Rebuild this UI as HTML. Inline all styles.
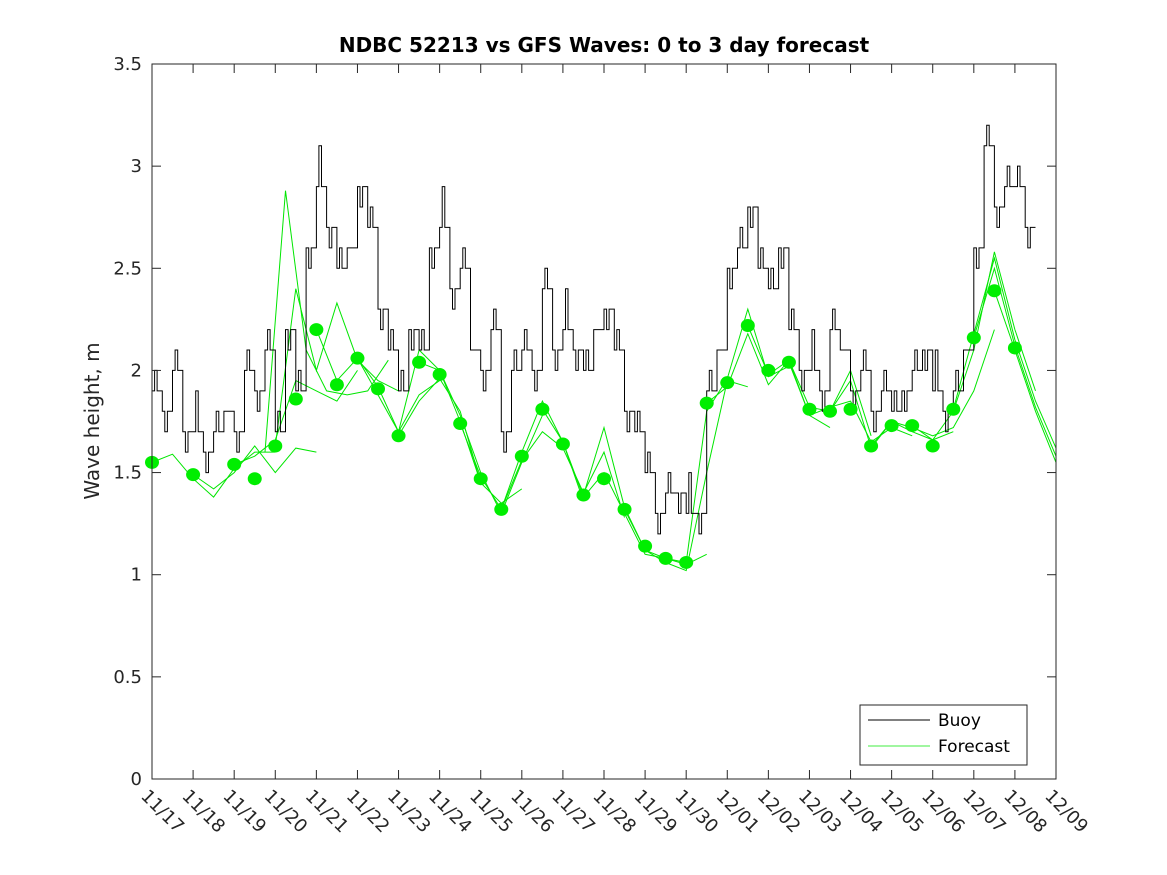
<!DOCTYPE html>
<html><head><meta charset="utf-8"><style>
body{margin:0;background:#fff;}
svg{display:block;font-family:"DejaVu Sans","Liberation Sans",sans-serif;}
</style></head><body>
<svg id="chart" width="1167" height="875" viewBox="0 0 1167 875">
<rect x="0" y="0" width="1167" height="875" fill="#fff"/>
<text x="604" y="52" text-anchor="middle" font-size="20" font-weight="bold" fill="#000">NDBC 52213 vs GFS Waves: 0 to 3 day forecast</text>
<text transform="translate(99,421) rotate(-90)" text-anchor="middle" font-size="20" fill="#262626">Wave height, m</text>
<g id="series"></g>
<rect x="152" y="64" width="904" height="715" fill="none" stroke="#262626" stroke-width="1"/>
<g id="axes"></g>
<g>
<rect x="860" y="705" width="167" height="60" fill="#fff" stroke="#262626" stroke-width="1"/>
<line x1="868" y1="720" x2="930" y2="720" stroke="#000" stroke-width="1"/>
<text x="938" y="726" font-size="17" fill="#000">Buoy</text>
<line x1="868" y1="746" x2="930" y2="746" stroke="#00e600" stroke-width="0.7"/>
<text x="938" y="752" font-size="17" fill="#000">Forecast</text>
</g>
</svg>
<script>
const xTickLabels = ["11/17","11/18","11/19","11/20","11/21","11/22","11/23","11/24","11/25","11/26","11/27","11/28","11/29","11/30","12/01","12/02","12/03","12/04","12/05","12/06","12/07","12/08","12/09"];
const yTicks = [0,0.5,1,1.5,2,2.5,3,3.5];
const yTickLabels = ["0","0.5","1","1.5","2","2.5","3","3.5"];
const buoyStep = 0.25;
const buoyVals = [1.9,1.8,2.0,1.7, 1.7,1.6,1.7,1.8, 1.7,2.0,1.9,2.1, 1.7,2.2,1.9,2.6, 2.9,2.7,2.5,2.6, 2.9,2.7,2.3,2.1, 1.9,2.2,2.1,2.6, 2.7,2.4,2.5,2.1, 2.0,2.2,1.7,2.0, 2.1,2.0,2.4,2.1, 2.2,2.1,2.0,2.2, 2.3,2.1,1.8,1.7, 1.5,1.3,1.4,1.4, 1.3,1.3,1.9,2.1, 2.5,2.6,2.8,2.5, 2.4,2.6,2.2,2.0, 2.0,1.9,2.2,2.1, 1.9,2.0,1.8,1.9, 1.8,1.9,2.0,2.1, 1.9,1.8,1.9,2.1, 2.6,3.1,2.8,2.9, 2.9,2.7];
const buoyJitter = [0.1,-0.1,0.1,-0.1,0.2,-0.1,0.1,0,-0.1,0.1,-0.1,0.1];
const dotDays = [0,1,2,2.5,3,3.5,4,4.5,5,5.5,6,6.5,7,7.5,8,8.5,9,9.5,10,10.5,11,11.5,12,12.5,13,13.5,14,14.5,15,15.5,16,16.5,17,17.5,18,18.5,19,19.5,20,20.5,21];
const dotVals = [1.55,1.49,1.54,1.47,1.63,1.86,2.20,1.93,2.06,1.91,1.68,2.04,1.98,1.74,1.47,1.32,1.58,1.81,1.64,1.39,1.47,1.32,1.14,1.08,1.06,1.84,1.94,2.22,2.00,2.04,1.81,1.80,1.81,1.63,1.73,1.73,1.63,1.81,2.16,2.39,2.11];
const runStarts = [0,1,2,2.75,3,4,5,6,6.5,7.5,8.5,9.5,10.5,11.5,12.5,13.5,14.5,15.5,16.5,17.5,18.5,19.5,20,20.5];
const runStep = 0.5;
const runVals = [
 [1.55,1.59,1.47,1.38,1.52,1.60,1.60],
 [1.49,1.42,1.50,1.63,1.50,1.62,1.60],
 [1.54,1.58,1.66,1.95,1.90,1.85,2.00],
 [1.60,2.88,2.10,1.90,1.88,1.90,2.05],
 [1.63,2.40,2.00,2.33,2.05,1.95,1.90],
 [2.20,1.95,2.06,1.88,1.70,1.88,1.95],
 [2.06,1.92,1.70,2.10,2.00,1.75,1.45],
 [1.68,1.85,1.96,1.80,1.45,1.35,1.42],
 [2.04,2.00,1.78,1.50,1.30,1.55,1.78],
 [1.74,1.48,1.32,1.60,1.85,1.65,1.36],
 [1.32,1.56,1.70,1.62,1.40,1.60,1.28],
 [1.81,1.65,1.38,1.50,1.30,1.10,1.08],
 [1.39,1.72,1.33,1.12,1.08,1.05,1.10],
 [1.32,1.12,1.06,1.02,1.50,1.95,1.92],
 [1.08,1.06,1.80,1.96,2.30,1.97,2.02],
 [1.84,1.92,2.18,1.93,2.05,1.78,1.72],
 [2.22,1.98,2.05,1.82,1.80,2.00,1.68],
 [2.04,1.78,1.82,1.85,1.65,1.72,1.68],
 [1.80,1.95,1.62,1.75,1.70,1.66,1.70],
 [1.63,1.75,1.72,1.68,1.72,1.90,2.20],
 [1.73,1.66,1.80,2.10,2.58,2.20,1.90],
 [1.81,2.18,2.55,2.15,1.85,1.62,1.50],
 [2.16,2.50,2.12,1.82,1.58],
 [2.39,2.10,1.80,1.55]
];
const NS="http://www.w3.org/2000/svg";
const X0=152,X1=1056,Y0=779,Y1=64,DMAX=22,VMAX=3.5;
function xs(d){return X0+(X1-X0)*d/DMAX;}
function ys(v){return Y0-(Y0-Y1)*v/VMAX;}
function mk(tag,attrs,parent){const e=document.createElementNS(NS,tag);for(const k in attrs)e.setAttribute(k,attrs[k]);parent.appendChild(e);return e;}
const axes=document.getElementById('axes'), series=document.getElementById('series');
xTickLabels.forEach((lab,i)=>{
 const x=xs(i);
 const t1=mk('line',{x1:x,y1:Y0,x2:x,y2:Y0-9,stroke:'#262626'},axes);
 
 
 const t2=mk('line',{x1:x,y1:Y1,x2:x,y2:Y1+9,stroke:'#262626'},axes);
 
 
 const tx=mk('text',{x:0,y:0,'font-size':18,fill:'#262626',transform:`translate(${x-12},${Y0+18}) rotate(45)`},axes);
 tx.textContent=lab;
 
 
});
yTicks.forEach((v,i)=>{
 const y=ys(v);
 const t1=mk('line',{x1:X0,y1:y,x2:X0+9,y2:y,stroke:'#262626'},axes);
 
 
 const t2=mk('line',{x1:X1,y1:y,x2:X1-9,y2:y,stroke:'#262626'},axes);
 
 
 const tx=mk('text',{x:X0-10,y:y+6,'font-size':18,fill:'#262626','text-anchor':'end'},axes);
 tx.textContent=yTickLabels[i];
 
 
});
runVals.forEach((arr,r)=>{
 const pts=arr.map((v,i)=>xs(Math.min(DMAX,runStarts[r]+i*runStep)).toFixed(1)+','+ys(v).toFixed(1)).join(' ');
 const pl=mk('polyline',{points:pts,fill:'none',stroke:'#00e600','stroke-width':1},series);
 
 
});
{
 let pts=[];
 buoyVals.forEach((v,i)=>{
  const d0=i*buoyStep, y=ys(v), yj=ys(v+buoyJitter[i%buoyJitter.length]);
  pts.push(xs(d0).toFixed(1)+','+y.toFixed(1));
  pts.push(xs(d0+buoyStep*0.25).toFixed(1)+','+y.toFixed(1));
  pts.push(xs(d0+buoyStep*0.25).toFixed(1)+','+yj.toFixed(1));
  pts.push(xs(d0+buoyStep*0.5).toFixed(1)+','+yj.toFixed(1));
  pts.push(xs(d0+buoyStep*0.5).toFixed(1)+','+y.toFixed(1));
  pts.push(xs(d0+buoyStep).toFixed(1)+','+y.toFixed(1));
 });
 const pl=mk('polyline',{points:pts.join(' '),fill:'none',stroke:'#000','stroke-width':1},series);
 
 
}
dotDays.forEach((d,i)=>{
 const c=mk('ellipse',{cx:xs(d),cy:ys(dotVals[i]),rx:7,ry:6.5,fill:'#00ee00'},series);
 
 
});
</script>
</body></html>
